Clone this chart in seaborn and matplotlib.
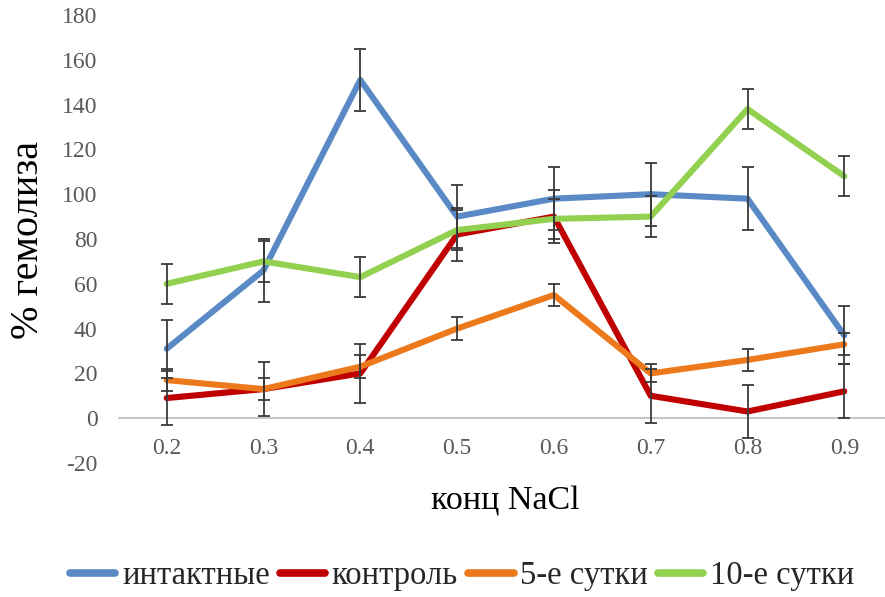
import numpy as np
import pandas as pd
import matplotlib
matplotlib.use("Agg")
import matplotlib.pyplot as plt
import seaborn as sns

# ---- data ----
categories = ["0.2", "0.3", "0.4", "0.5", "0.6", "0.7", "0.8", "0.9"]
series_names = ["интактные", "контроль", "5-е сутки", "10-е сутки"]
intact = [31, 66, 151, 90, 98, 100, 98, 37]
intact_err = [13, 14, 14, 14, 14, 14, 14, 13]
control = [9, 13, 20, 82, 90, 10, 3, 12]
control_err = [12, 12, 13, 12, 12, 12, 12, 12]
day5 = [17, 13, 23, 40, 55, 20, 26, 33]
day5_err = [5, 5, 5, 5, 5, 4, 5, 5]
day10 = [60, 70, 63, 84, 89, 90, 138, 108]
day10_err = [9, 9, 9, 9, 9, 9, 9, 9]
y_ticks = [-20, 0, 20, 40, 60, 80, 100, 120, 140, 160, 180]

colors = ["#5A8AC6", "#C00000", "#EC7A1C", "#92D050"]
values = [intact, control, day5, day10]
errors = [intact_err, control_err, day5_err, day10_err]

pos = np.arange(len(categories))
df = pd.DataFrame({
    "pos": np.tile(pos, len(series_names)),
    "val": np.concatenate(values),
    "series": np.repeat(series_names, len(categories)),
})

sns.set_theme(style="white")
plt.rcParams["font.family"] = ["Liberation Serif", "DejaVu Serif"]

fig = plt.figure(figsize=(8.85, 5.97), dpi=100)
ax_left, ax_w = 118.3 / 885, 774.4 / 885
ax_bot, ax_h = (597 - 463) / 597, 448 / 597
ax = fig.add_axes([ax_left, ax_bot, ax_w, ax_h])

ax.axhline(0, color="#C8C8C8", lw=1.5, zorder=1)

sns.lineplot(data=df, x="pos", y="val", hue="series", hue_order=series_names,
             palette=colors, linewidth=4.4, sort=False, ax=ax, zorder=3,
             solid_joinstyle="round", solid_capstyle="round")

for v, e in zip(values, errors):
    ax.errorbar(pos, v, yerr=e, fmt="none", ecolor="#3A3A3A", elinewidth=1.3,
                capsize=4.3, capthick=1.3, zorder=4)

ax.set_xlim(-0.5, len(categories) - 0.5)
ax.set_ylim(-20, 180)
ax.set_yticks(y_ticks)
ax.set_yticklabels([str(t) for t in y_ticks])
ax.set_xticks(pos)
ax.set_xticklabels(categories)
for s in ax.spines.values():
    s.set_visible(False)
ax.tick_params(axis="y", length=0, pad=15, labelsize=17, labelcolor="#595959")
ax.tick_params(axis="x", length=0, pad=-18, labelsize=17, labelcolor="#595959")

ax.set_xlabel("конц NaCl", fontsize=24.5, color="black")
ax.xaxis.set_label_coords(0.5, (463 - 486) / 448)
ax.set_ylabel("% гемолиза", fontsize=29, color="black", va="center")
ax.yaxis.set_label_coords((29 - 118.3) / 774.4, 0.498)

handles, labels = ax.get_legend_handles_labels()
if ax.legend_ is not None:
    ax.legend_.remove()
leg = fig.legend(handles, labels, loc="center", ncol=4, frameon=False,
                 bbox_to_anchor=(462 / 885, 21 / 597), fontsize=23.5,
                 handlelength=1.4, handletextpad=0.2, columnspacing=0.3,
                 borderaxespad=0, borderpad=0)
for ln in leg.get_lines():
    ln.set_linewidth(5.5)
    ln.set_solid_capstyle("round")

fig.savefig("out.png", dpi=100)
